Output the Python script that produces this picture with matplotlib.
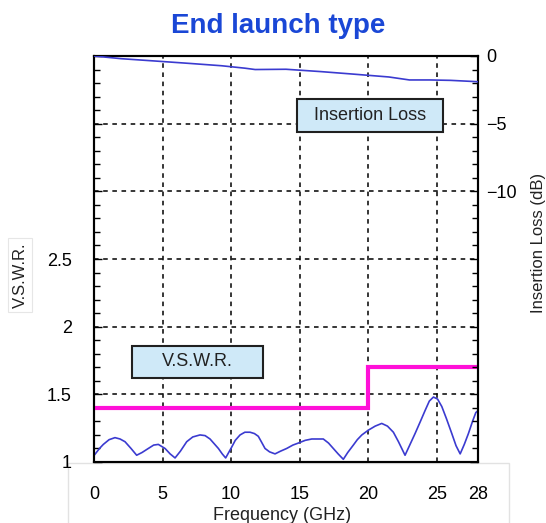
import matplotlib
matplotlib.use("Agg")
import matplotlib.pyplot as plt
from matplotlib.patches import Rectangle
from matplotlib.ticker import MultipleLocator, FixedLocator

plt.rcParams['font.family'] = ['Liberation Sans', 'DejaVu Sans']

# ---- data ----
title = "End launch type"
x_ticks = [0, 5, 10, 15, 20, 25, 28]

# insertion loss (dB)
il_freq = [0, 2.0, 4.45, 7.0, 9.3, 11.0, 11.75, 14.0, 16.5, 18.8, 21.5, 23.0, 24.5, 26.0, 28.0]
il_db = [0.0, -0.2, -0.37, -0.55, -0.72, -0.9, -1.0, -0.98, -1.15, -1.33, -1.55, -1.77, -1.77, -1.8, -1.9]

# V.S.W.R. spec (step)
spec_freq = [0, 20, 20, 28]
spec_vswr = [1.40, 1.40, 1.70, 1.70]

# measured V.S.W.R.
vswr_freq = [0.07, 0.4, 0.68, 1.1, 1.53, 1.9, 2.26, 2.7, 3.11, 3.5, 3.96, 4.35, 4.69, 5.18,
             5.55, 5.91, 6.3, 6.76, 7.2, 7.73, 8.1, 8.46, 9.07, 9.35, 9.6, 10.04, 10.3, 10.65,
             11.0, 11.38, 11.7, 11.98, 12.2, 12.47, 12.8, 13.2, 13.6, 14.05, 14.5, 14.9, 15.4,
             15.88, 16.3, 16.72, 17.1, 17.45, 17.8, 18.18, 18.5, 18.91, 19.2, 19.53, 20.0, 20.5,
             20.98, 21.4, 21.83, 22.2, 22.68, 23.0, 23.41, 23.8, 24.14, 24.45, 24.75, 25.05,
             25.36, 25.7, 26.09, 26.4, 26.70, 27.0, 27.30, 27.6, 27.84, 28.0]
vswr_val = [1.057, 1.10, 1.13, 1.165, 1.18, 1.17, 1.15, 1.10, 1.05, 1.07, 1.10, 1.125, 1.13, 1.10,
            1.06, 1.03, 1.08, 1.15, 1.185, 1.20, 1.195, 1.17, 1.10, 1.06, 1.03, 1.11, 1.16, 1.20,
            1.22, 1.22, 1.21, 1.19, 1.15, 1.10, 1.075, 1.06, 1.08, 1.10, 1.125, 1.14, 1.16,
            1.17, 1.17, 1.17, 1.14, 1.10, 1.06, 1.02, 1.07, 1.125, 1.165, 1.20, 1.235, 1.265,
            1.285, 1.265, 1.22, 1.15, 1.05, 1.12, 1.21, 1.30, 1.38, 1.45, 1.48, 1.465,
            1.41, 1.32, 1.21, 1.12, 1.06, 1.13, 1.21, 1.30, 1.365, 1.38]

# ---- figure ----
W, H = 546, 523
fig = plt.figure(figsize=(W / 100, H / 100), dpi=100)
L, R, T, B = 94, 478, 56, 462
ax = fig.add_axes([L / W, 1 - B / H, (R - L) / W, (B - T) / H])

line_col = '#3b3bd0'
mag = '#ff10d8'

# light frame behind x tick labels
fig.patches.append(Rectangle((68 / W, -0.01), (509 - 68) / W, 1 - 463 / H + 0.01,
                             transform=fig.transFigure, facecolor='none',
                             edgecolor='#e2e2e2', lw=1.0, zorder=-10))

ax.set_xlim(0, 28)
ax.set_ylim(1, 4)
ax.xaxis.set_major_locator(FixedLocator(x_ticks))
ax.set_xticklabels([str(v) for v in x_ticks])
ax.set_yticks([1, 1.5, 2, 2.5, 3, 3.5, 4])
ax.set_yticklabels(['1', '1.5', '2', '2.5', '', '', ''])
ax.yaxis.set_minor_locator(MultipleLocator(0.1))

# grid
for gx in [5, 10, 15, 20, 25]:
    ax.axvline(gx, color='black', ls=(0, (3, 3)), lw=1.1, zorder=1)
for gy in [1.5, 2, 2.5, 3, 3.5]:
    ax.axhline(gy, color='black', ls=(0, (3, 3)), lw=1.1, zorder=1)

ax.plot(vswr_freq, vswr_val, color=line_col, lw=1.2, zorder=3)
ax.plot(spec_freq, spec_vswr, color=mag, lw=3.0, zorder=3, solid_joinstyle='miter')

ax.tick_params(axis='y', which='major', direction='in', length=6, width=1, labelsize=13, pad=16)
ax.tick_params(axis='y', which='minor', direction='in', length=4, width=1)
ax.tick_params(axis='x', which='major', direction='in', length=0, labelsize=13, pad=17)
for s in ax.spines.values():
    s.set_linewidth(1.5)

ax2 = ax.twinx()
ax2.set_ylim(-30, 0)
ax2.set_yticks([-30, -25, -20, -15, -10, -5, 0])
ax2.set_yticklabels(['', '', '', '', '\u221210', '\u22125', '0'])
ax2.yaxis.set_minor_locator(MultipleLocator(1))
ax2.tick_params(axis='y', which='major', direction='in', length=6, width=1, labelsize=13, pad=6)
ax2.tick_params(axis='y', which='minor', direction='in', length=4, width=1)
ax2.plot(il_freq, il_db, color=line_col, lw=1.2, zorder=3)
for s in ax2.spines.values():
    s.set_linewidth(1.5)

# label boxes
def label_box(x0, x1, y0, y1, text):
    ax_x0 = (x0 - L) / (R - L)
    ax_w = (x1 - x0) / (R - L)
    ax_y0 = (B - y1) / (B - T)
    ax_h = (y1 - y0) / (B - T)
    ax2.add_patch(Rectangle((ax_x0, ax_y0), ax_w, ax_h, transform=ax2.transAxes,
                            facecolor='#cfe9f8', edgecolor='#202020', lw=1.5, zorder=5))
    ax2.text(ax_x0 + ax_w / 2, ax_y0 + ax_h / 2, text, transform=ax2.transAxes,
             ha='center', va='center', fontsize=13, color='#222222', zorder=6)

label_box(297, 443, 99, 132, 'Insertion Loss')
label_box(132, 263, 346, 378, 'V.S.W.R.')

# title
fig.text(0.51, 1 - 26 / H, title, ha='center', va='center', fontsize=20, fontweight='bold',
         color='#1a47d6')

# axis labels
fig.text(20 / W, 1 - 275 / H, 'V.S.W.R.', rotation=90, ha='center', va='center', fontsize=12,
         color='#222222',
         bbox=dict(boxstyle='square,pad=0.25', facecolor='white', edgecolor='#e6e6e6', lw=0.8))
fig.text(538 / W, 1 - 243 / H, 'Insertion Loss (dB)', rotation=90, ha='center', va='center',
         fontsize=12, color='#222222')
fig.text(282 / W, 1 - 515 / H, 'Frequency (GHz)', ha='center', va='center', fontsize=13,
         color='#222222')

fig.savefig('out.png', dpi=100)
